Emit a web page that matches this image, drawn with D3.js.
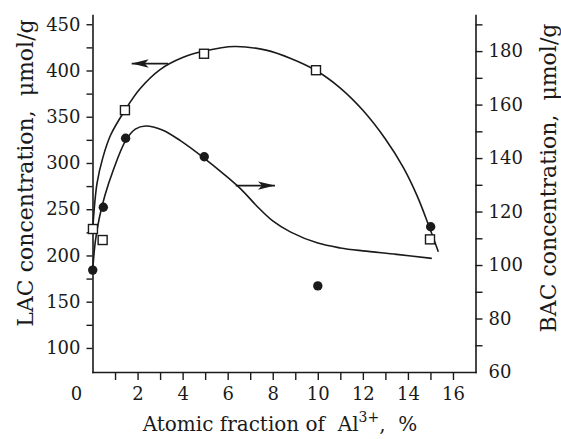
<!DOCTYPE html>
<html>
<head>
<meta charset="utf-8">
<script src="https://cdnjs.cloudflare.com/ajax/libs/d3/7.8.5/d3.min.js"></script>
<style>
body{margin:0;background:#fff;}
svg{display:block;font-family:"DejaVu Serif",serif;}
</style>
</head>
<body>
<svg id="canvas" width="561" height="439"></svg>
<script>
// measured points: squares = LAC (left axis), circles = BAC (right axis)
let lacX=[0.02,0.45,1.44,4.95,9.92,14.98];
let lacY=[228.6,216.7,357.1,418.1,400.3,217.4];
let bacX=[0.01,0.48,1.47,4.96,10.0,15.01];
let bacY=[98.1,121.6,147.4,140.5,92.2,114.3];

// hand-drawn fit curves
let lacCurveX=[0.01,0.2,0.45,0.8,1.44,2.1,3.0,4.0,4.95,6.3,7.7,8.8,9.92,11.0,12.0,13.0,13.8,14.4,14.9,15.35];
let lacCurveY=[228.6,278,305,330,357,380,401,414,421,426,422,413,400,381,357,326,295,265,234,204];
let bacCurveX=[0.01,0.12,0.3,0.55,0.9,1.47,1.9,2.35,3.1,3.9,4.95,5.8,6.6,7.3,8.0,8.8,10.0,11.0,12.0,13.5,15.06];
let bacCurveY=[98.1,108.5,117.5,126,135,146.5,150.8,152,150.5,146.5,140,134.2,128.3,122,116.5,112.3,108.2,106.4,105.3,104,102.5];

// the two arrows telling which axis each curve belongs to
let arrowLacX=[3.36,1.74], arrowLacY=407.5;
let arrowBacX=[6.36,8.1], arrowBacY=129.7;

let xTicks=d3.range(1,17);
let lTicks=d3.range(100,451,25);
let rTicks=d3.range(60,191,10);

let canvas=d3.select('#canvas');
let ink='#1a1a1a';
let sp='\u00a0';

let x=d3.scaleLinear().domain([0,17]).range([92.5,475.5]);
let yL=d3.scaleLinear().domain([74,460]).range([372,15]);
let yR=d3.scaleLinear().domain([60,193.5]).range([372,15]);

function styleAxis(g){
    g.select('.domain').attr('stroke',ink).attr('stroke-width',1.6).attr('stroke-linecap','square');
    g.selectAll('.tick line').attr('stroke',ink).attr('stroke-width',1.4);
    g.selectAll('.tick text').attr('fill',ink).style('font-size','18px').style('font-family','"DejaVu Serif",serif');
}

canvas.append('g')
    .attr('transform','translate(0,372)')
    .call(d3.axisBottom(x).tickValues(xTicks).tickSize(8).tickSizeOuter(0).tickPadding(7)
        .tickFormat(d=>d%2===0?d:''))
    .call(styleAxis);

canvas.append('text')
    .attr('x',x(0)-16).attr('y',372+8+7)
    .attr('dy','0.71em').attr('text-anchor','middle')
    .attr('fill',ink).style('font-size','18px')
    .text('0');

canvas.append('g')
    .attr('transform','translate('+x(0)+',0)')
    .call(d3.axisLeft(yL).tickValues(lTicks).tickSize(6).tickSizeOuter(0).tickPadding(6)
        .tickFormat(d=>d%50===0?d:''))
    .call(styleAxis);

let right=canvas.append('g')
    .attr('transform','translate('+x(17)+',0)')
    .call(d3.axisRight(yR).tickValues(rTicks).tickSize(7).tickSizeOuter(0).tickPadding(6)
        .tickFormat(d=>d%20===0?d:''))
    .call(styleAxis);
right.selectAll('.tick').filter(d=>d===60).select('line').remove();

// curves
let lacLine=d3.line().x(d=>x(d[0])).y(d=>yL(d[1])).curve(d3.curveCatmullRom.alpha(0.5));
let bacLine=d3.line().x(d=>x(d[0])).y(d=>yR(d[1])).curve(d3.curveCatmullRom.alpha(0.5));

canvas.append('path')
    .attr('d',lacLine(d3.zip(lacCurveX,lacCurveY)))
    .attr('fill','none').attr('stroke',ink).attr('stroke-width',1.6);
canvas.append('path')
    .attr('d',bacLine(d3.zip(bacCurveX,bacCurveY)))
    .attr('fill','none').attr('stroke',ink).attr('stroke-width',1.6);

// arrows
canvas.append('defs').append('marker')
    .attr('id','head')
    .attr('markerUnits','userSpaceOnUse')
    .attr('viewBox','-18 -5 20 10')
    .attr('markerWidth',20).attr('markerHeight',10)
    .attr('refX',0).attr('refY',0)
    .attr('orient','auto')
    .append('path')
    .attr('d','M0,0 L-17,-4.2 L-13,0 L-17,4.2 Z')
    .attr('fill',ink);

canvas.append('line')
    .attr('x1',x(arrowLacX[0])).attr('x2',x(arrowLacX[1]))
    .attr('y1',yL(arrowLacY)).attr('y2',yL(arrowLacY))
    .attr('stroke',ink).attr('stroke-width',1.8)
    .attr('marker-end','url(#head)');
canvas.append('line')
    .attr('x1',x(arrowBacX[0])).attr('x2',x(arrowBacX[1]))
    .attr('y1',yR(arrowBacY)).attr('y2',yR(arrowBacY))
    .attr('stroke',ink).attr('stroke-width',1.8)
    .attr('marker-end','url(#head)');

// markers
canvas.selectAll('rect.lac')
    .data(d3.zip(lacX,lacY))
    .enter()
    .append('rect')
    .attr('class','lac')
    .attr('x',d=>x(d[0])-4.5).attr('y',d=>yL(d[1])-4.5)
    .attr('width',9).attr('height',9)
    .attr('fill','#fff').attr('stroke',ink).attr('stroke-width',1.4);

canvas.selectAll('circle.bac')
    .data(d3.zip(bacX,bacY))
    .enter()
    .append('circle')
    .attr('class','bac')
    .attr('cx',d=>x(d[0])).attr('cy',d=>yR(d[1]))
    .attr('r',4.7)
    .attr('fill',ink);

// axis titles
canvas.append('text')
    .attr('transform','translate(33,173) rotate(-90)')
    .attr('text-anchor','middle').attr('fill',ink)
    .style('font-size','22px')
    .text('LAC concentration,'+sp+sp+'μmol/g');

canvas.append('text')
    .attr('transform','translate(556,178) rotate(-90)')
    .attr('text-anchor','middle').attr('fill',ink)
    .style('font-size','22px')
    .text('BAC concentration,'+sp+sp+'μmol/g');

let xt=canvas.append('text')
    .attr('x',280).attr('y',431)
    .attr('text-anchor','middle').attr('fill',ink)
    .style('font-size','20px');
xt.append('tspan').text('Atomic fraction of'+sp+sp+'Al');
xt.append('tspan').attr('dy',-9).style('font-size','14px').text('3+');
xt.append('tspan').attr('dy',9).text(','+sp+sp+'%');
</script>
</body>
</html>
